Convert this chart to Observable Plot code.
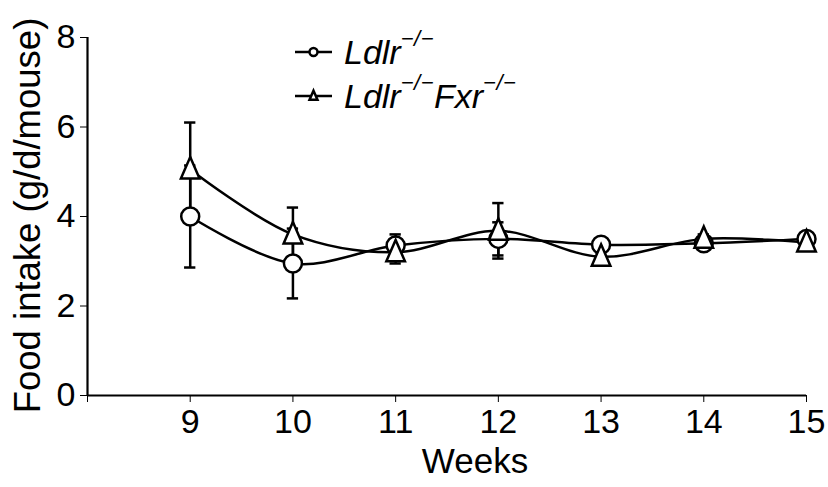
<!DOCTYPE html>
<html>
<head>
<meta charset="utf-8">
<script src="https://cdn.jsdelivr.net/npm/d3@7"></script>
<script src="https://cdn.jsdelivr.net/npm/@observablehq/plot@0.6"></script>
<style>
  body { margin: 0; background: #fff; }
  #wrap { position: relative; width: 828px; height: 487px; font-family: "Liberation Sans", Arial, sans-serif; }
  #legend { position: absolute; left: 295px; top: 30px; font-size: 34px; color: #000; }
  .row { display: flex; align-items: center; height: 44px; white-space: nowrap; }
  .row svg { margin-right: 11px; }
  .row i { font-style: italic; }
  .row sup { font-size: 22px; font-style: italic; position: relative; top: -6px; letter-spacing: 0.5px; }
</style>
</head>
<body>
<div id="wrap">
  <div id="chart"></div>
  <div id="legend"></div>
</div>
<script>
const weeks = [9, 10, 11, 12, 13, 14, 15];
const ldlrMean = [4.0, 2.95, 3.35, 3.5, 3.37, 3.4, 3.5];
const ldlrErr  = [1.14, 0.78, 0.25, 0.37, 0.1, 0.1, 0.1];
const dkoMean  = [5.05, 3.6, 3.2, 3.68, 3.1, 3.5, 3.42];
const dkoErr   = [1.05, 0.6, 0.25, 0.62, 0.1, 0.1, 0.1];
const seriesNames = ["Ldlr", "LdlrFxr"];
const xTicks = [8, 9, 10, 11, 12, 13, 14, 15];
const xLabels = [9, 10, 11, 12, 13, 14, 15];
const yTicks = [0, 2, 4, 6, 8];

const ldlr = weeks.map((w, i) => ({week: w, mean: ldlrMean[i], err: ldlrErr[i], s: seriesNames[0]}));
const dko = weeks.map((w, i) => ({week: w, mean: dkoMean[i], err: dkoErr[i], s: seriesNames[1]}));
const all = ldlr.concat(dko);
const capHalf = 0.055;

// taller triangle, as in the reference
const tallTriangle = {
  draw(context, size) {
    const r = Math.sqrt(size / Math.PI);
    const w = 2 * r, h = 2.3 * r;
    context.moveTo(0, -h * 0.58);
    context.lineTo(w / 2, h * 0.42);
    context.lineTo(-w / 2, h * 0.42);
    context.closePath();
  }
};

const chart = Plot.plot({
  width: 828,
  height: 487,
  marginLeft: 87,
  marginRight: 22,
  marginTop: 37,
  marginBottom: 92,
  style: {fontFamily: "'Liberation Sans', Arial, sans-serif", background: "#fff", color: "#000"},
  x: {domain: [8, 15]},
  y: {domain: [0, 8]},
  marks: [
    Plot.ruleX([8], {y1: 0, y2: 8, stroke: "#000", strokeWidth: 2.2}),
    Plot.ruleY([0], {x1: 8, x2: 15, stroke: "#000", strokeWidth: 2.2}),
    Plot.axisY({ticks: yTicks, tickSize: 7, tickPadding: 5, tickWidth: 2.2, fontSize: 34, label: null}),
    Plot.axisX({ticks: xTicks, tickSize: 7, tickPadding: 6, tickWidth: 2.2, fontSize: 34, label: null,
      tickFormat: d => xLabels.includes(d) ? String(d) : ""}),
    Plot.text(["Weeks"], {frameAnchor: "bottom", dx: 28, dy: 66, fontSize: 35, lineAnchor: "middle", textAnchor: "middle"}),
    Plot.text(["Food intake (g/d/mouse)"], {frameAnchor: "left", rotate: -90, dx: -59, dy: -1, fontSize: 36.5, lineAnchor: "middle", textAnchor: "middle"}),
    Plot.line(ldlr, {x: "week", y: "mean", curve: "catmull-rom", stroke: "#000", strokeWidth: 2.5}),
    Plot.line(dko, {x: "week", y: "mean", curve: "catmull-rom", stroke: "#000", strokeWidth: 2.5}),
    Plot.ruleX(all, {x: "week", y1: d => d.mean - d.err, y2: d => d.mean + d.err, stroke: "#000", strokeWidth: 2.5}),
    Plot.ruleY(all, {x1: d => d.week - capHalf, x2: d => d.week + capHalf, y: d => d.mean - d.err, stroke: "#000", strokeWidth: 2.5}),
    Plot.ruleY(all, {x1: d => d.week - capHalf, x2: d => d.week + capHalf, y: d => d.mean + d.err, stroke: "#000", strokeWidth: 2.5}),
    Plot.dot(ldlr, {x: "week", y: "mean", r: 9, symbol: "circle", fill: "#fff", stroke: "#000", strokeWidth: 2.5}),
    Plot.dot(dko, {x: "week", y: "mean", r: 9.3, symbol: tallTriangle, fill: "#fff", stroke: "#000", strokeWidth: 2.5})
  ]
});
document.getElementById("chart").appendChild(chart);

// Legend
function legendIcon(kind) {
  const ns = "http://www.w3.org/2000/svg";
  const svg = document.createElementNS(ns, "svg");
  svg.setAttribute("width", 38); svg.setAttribute("height", 20);
  const ln = document.createElementNS(ns, "line");
  ln.setAttribute("x1", 0); ln.setAttribute("x2", 37); ln.setAttribute("y1", 10); ln.setAttribute("y2", 10);
  ln.setAttribute("stroke", "#000"); ln.setAttribute("stroke-width", 2.5);
  svg.appendChild(ln);
  const p = document.createElementNS(ns, "path");
  p.setAttribute("d", kind === "circle" ? d3.symbol(d3.symbolCircle, 50)() : d3.symbol(tallTriangle, 50)());
  p.setAttribute("transform", "translate(18.5,10)");
  p.setAttribute("fill", "#fff"); p.setAttribute("stroke", "#000"); p.setAttribute("stroke-width", 2.5);
  svg.appendChild(p);
  return svg;
}
const legend = document.getElementById("legend");
const r1 = document.createElement("div"); r1.className = "row";
r1.appendChild(legendIcon("circle"));
r1.insertAdjacentHTML("beforeend", "<span><i>Ldlr</i><sup>−/−</sup></span>");
const r2 = document.createElement("div"); r2.className = "row";
r2.appendChild(legendIcon("triangle"));
r2.insertAdjacentHTML("beforeend", "<span><i>Ldlr</i><sup>−/−</sup><i>Fxr</i><sup>−/−</sup></span>");
legend.appendChild(r1); legend.appendChild(r2);
</script>
</body>
</html>
